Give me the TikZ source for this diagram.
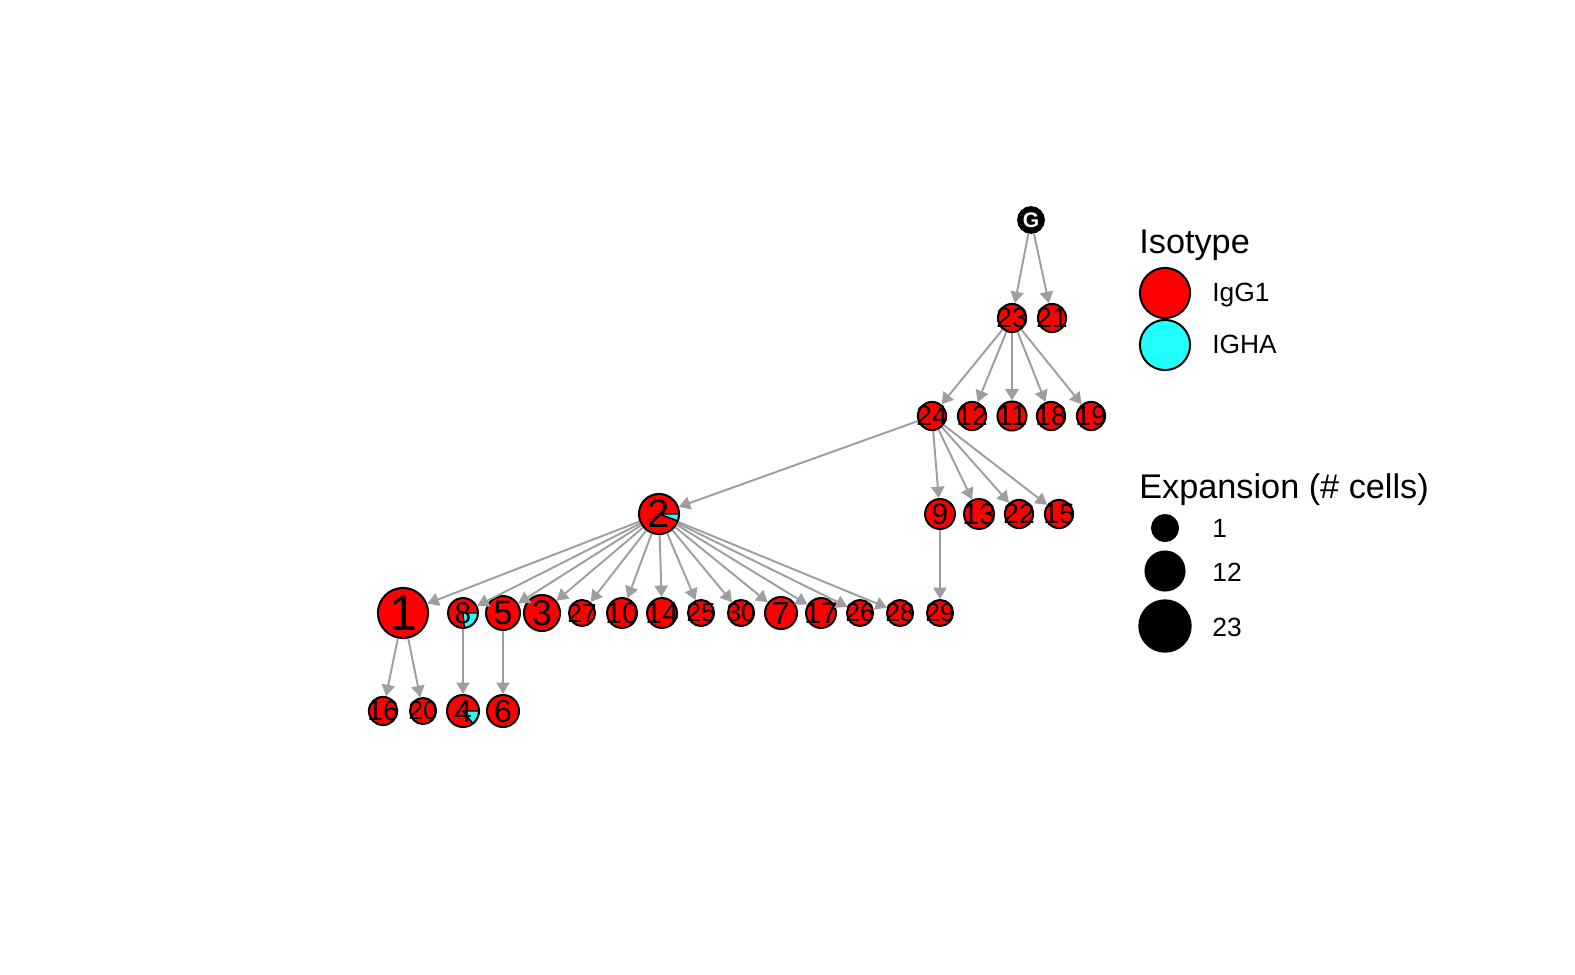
\documentclass[tikz,border=0pt]{standalone}
\usepackage{fontspec}
\setmainfont{Liberation Sans}
\usetikzlibrary{arrows.meta}
\definecolor{igg}{RGB}{255,0,0}
\definecolor{iga}{RGB}{34,255,255}
\definecolor{edgegray}{RGB}{158,158,158}
\tikzset{
  cell/.style={circle, draw, fill=igg, line width=1.15pt, inner sep=0pt, minimum size=#1*0.0352cm, font=\fontsize{#1}{#1}\selectfont,
    execute at begin node={\hbox to 0pt\bgroup\hss}, execute at end node={\hss\egroup}},
  pie/.style 2 args={path picture={\draw[fill=iga, line width=0.8pt] (path picture bounding box.center) -- ++(0:#2) arc[start angle=0, end angle=#1, radius=#2] -- cycle;}},
  tree/.style={draw=edgegray, line width=1.1pt, -{Triangle[length=6.5pt,width=7.5pt]}},
  legtxt/.style={anchor=base west, inner sep=0pt, font=\fontsize{15}{15}\selectfont},
  legtitle/.style={anchor=base west, inner sep=0pt, font=\fontsize{19.5}{19.5}\selectfont}
}

\begin{document}
\begin{tikzpicture}[x=0.02cm, y=-0.02cm]
        \useasboundingbox (0,0) rectangle (1575,974);
        %nodes
        \node[circle, draw, fill=black, line width=1pt, inner sep=0pt, minimum size=0.52cm, text=white, font=\fontsize{12}{12}\selectfont\bfseries] (g) at (1031,220) {G};
        \node[cell=16] (n23) at (1012,318) {23};
        \node[cell=16] (n21) at (1052,318) {21};
        \node[cell=16] (n24) at (932,416) {24};
        \node[cell=16] (n12) at (972,416) {12};
        \node[cell=16.5] (n11) at (1012,416) {11};
        \node[cell=16] (n18) at (1051,416) {18};
        \node[cell=16] (n19) at (1091,416) {19};
        \node[cell=22.8, pie={-20}{0.401cm}] (n2) at (659,514) {2};
        \node[cell=17] (n9) at (940,514) {9};
        \node[cell=17] (n13) at (979,514) {13};
        \node[cell=16] (n22) at (1019,514) {22};
        \node[cell=16] (n15) at (1059,514) {15};
        \node[cell=28.5] (n1) at (403,613) {1};
        \node[cell=17, pie={-85}{0.299cm}] (n8) at (463,613) {8};
        \node[cell=19.3] (n5) at (503,613) {5};
        \node[cell=20.5] (n3) at (542,613) {3};
        \node[cell=14.8] (n27) at (582,613) {27};
        \node[cell=17] (n10) at (622,613) {10};
        \node[cell=17] (n14) at (662,613) {14};
        \node[cell=14.8] (n25) at (701,613) {25};
        \node[cell=14.8] (n30) at (741,613) {30};
        \node[cell=18.2] (n7) at (781,613) {7};
        \node[cell=17] (n17) at (821,613) {17};
        \node[cell=14.8] (n26) at (860,613) {26};
        \node[cell=14.8] (n28) at (900,613) {28};
        \node[cell=14.8] (n29) at (940,613) {29};
        \node[cell=16] (n16) at (383,711) {16};
        \node[cell=14.8] (n20) at (423,711) {20};
        \node[cell=18.2, pie={-52}{0.32cm}] (n4) at (463,711) {4};
        \node[cell=18.2] (n6) at (503,711) {6};
        %edges
        \path [tree] (g) to (n23);
        \path [tree] (g) to (n21);
        \path [tree] (n23) to (n24);
        \path [tree] (n23) to (n12);
        \path [tree] (n23) to (n11);
        \path [tree] (n23) to (n18);
        \path [tree] (n23) to (n19);
        \path [tree] (n24) to (n2);
        \path [tree] (n24) to (n9);
        \path [tree] (n24) to (n13);
        \path [tree] (n24) to (n22);
        \path [tree] (n24) to (n15);
        \path [tree] (n2) to (n1);
        \path [tree] (n2) to (n8);
        \path [tree] (n2) to (n5);
        \path [tree] (n2) to (n3);
        \path [tree] (n2) to (n27);
        \path [tree] (n2) to (n10);
        \path [tree] (n2) to (n14);
        \path [tree] (n2) to (n25);
        \path [tree] (n2) to (n30);
        \path [tree] (n2) to (n7);
        \path [tree] (n2) to (n17);
        \path [tree] (n2) to (n26);
        \path [tree] (n2) to (n28);
        \path [tree] (n9) to (n29);
        \path [tree] (n1) to (n16);
        \path [tree] (n1) to (n20);
        \path [tree] (n8) to (n4);
        \path [tree] (n5) to (n6);
        %legend
        \node[legtitle] (isotype) at (1139,253) {Isotype};
        \node[cell=28.5] (keyigg) at (1165,293) {};
        \node[cell=28.5, fill=iga] (keyiga) at (1165,345) {};
        \node[legtxt] (lbligg) at (1212,301) {IgG1};
        \node[legtxt] (lbliga) at (1212,353) {IGHA};
        \node[legtitle] (expansion) at (1139,498) {Expansion (\# cells)};
        \node[cell=14.8, fill=black] (keyone) at (1165,528) {};
        \node[cell=22.2, fill=black] (keytwelve) at (1165,571) {};
        \node[cell=29.2, fill=black] (keytwentythree) at (1165,626) {};
        \node[legtxt] (lblone) at (1212,537) {1};
        \node[legtxt] (lbltwelve) at (1212,581) {12};
        \node[legtxt] (lbltwentythree) at (1212,636) {23};
      \end{tikzpicture}
\end{document}
